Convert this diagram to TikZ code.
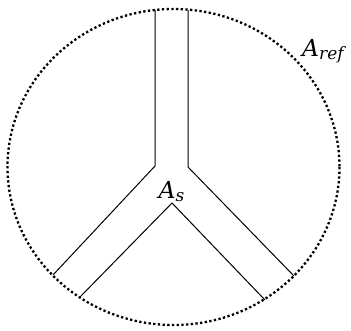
\documentclass[tikz,border=0pt]{standalone}
\usepackage{fontspec}
\newfontfamily\lblfont{DejaVu Serif}
\newcommand\lblsub[1]{\raisebox{-3pt}{\fontsize{17}{20}\selectfont #1}}
\begin{document}
\begin{tikzpicture}[x=1pt,y=-1pt,
  wall/.style={line width=1pt, line join=miter},
  refline/.style={line width=2.3pt, dash pattern=on 2.3pt off 2.4pt},
  lbl/.style={inner sep=0pt, anchor=base west, font=\lblfont\itshape\fontsize{23.5}{27}\selectfont}]
\useasboundingbox (0,0) rectangle (351,330);
\draw[refline] (173.5,167) ellipse [x radius=166, y radius=158];
\coordinate (t1) at (155,10);
\coordinate (j1) at (155,166);
\coordinate (e1) at (53,275);
\coordinate (t2) at (188,10);
\coordinate (j2) at (188,167);
\coordinate (e2) at (294,276);
\coordinate (v0) at (80,297);
\coordinate (apex) at (172,203);
\coordinate (v1) at (265,300);
\draw[wall] (t1) -- (j1) -- (e1);
\draw[wall] (t2) -- (j2) -- (e2);
\draw[wall] (v0) -- (apex) -- (v1);
\node[lbl] (as) at (158.5,198) {A\lblsub{s}};
\node[lbl] (aref) at (302,56) {A\lblsub{ref}};
\end{tikzpicture}
\end{document}
